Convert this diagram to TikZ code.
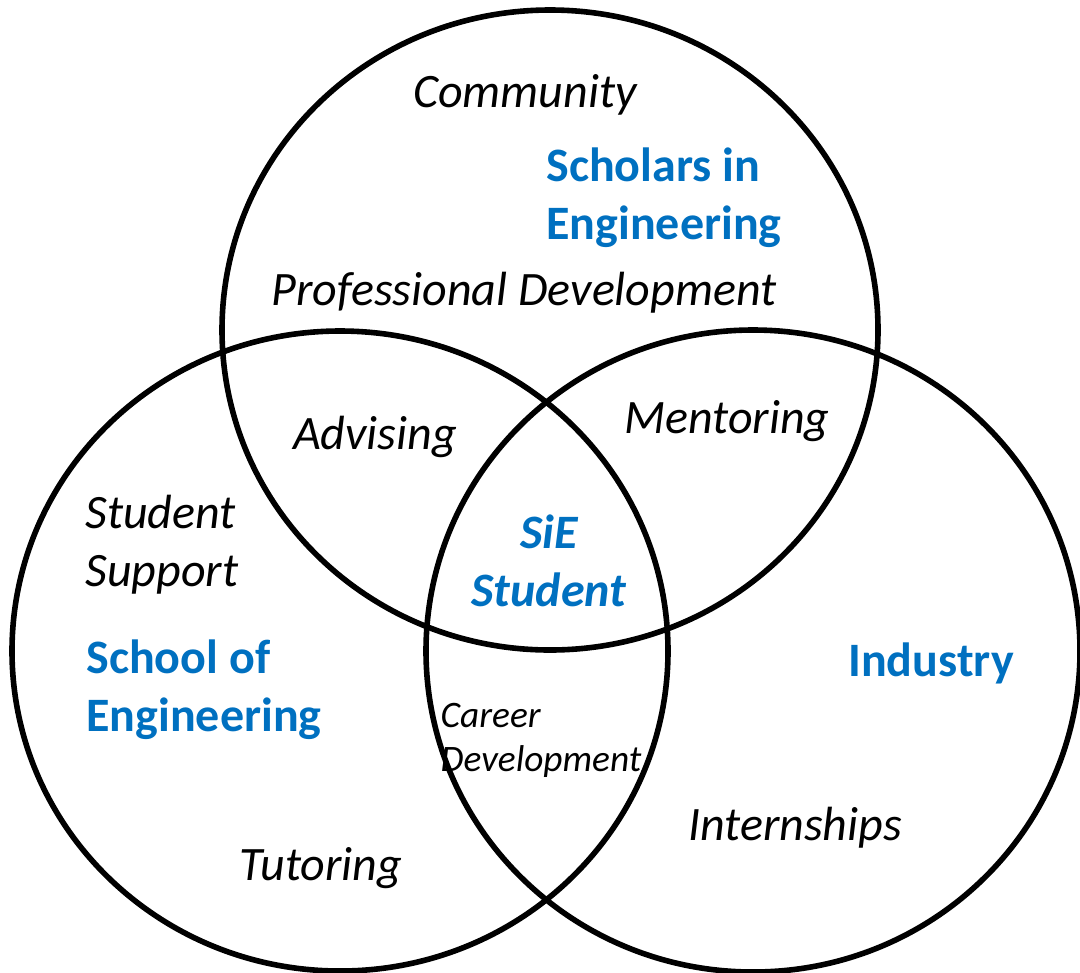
\documentclass[tikz,border=0pt]{standalone}
\usepackage{amsmath}
\usepackage{xcolor}
\usepackage{fontspec}
\setmainfont{Carlito}
\usepackage{tikz}
\definecolor{sieblue}{RGB}{0,112,192}

\begin{document}
\begin{tikzpicture}[x=0.75pt,y=0.75pt,yscale=-1,xscale=1]
\tikzset{
  ring/.style={line width=4.2pt},
  part/.style={inner sep=0.75pt,font=\fontsize{36}{43.5}\selectfont\itshape},
  small part/.style={inner sep=0.75pt,font=\fontsize{28}{33}\selectfont\itshape},
  group/.style={inner sep=0.75pt,text=sieblue,font=\fontsize{36}{43.5}\selectfont\bfseries},
}
\useasboundingbox (0,0) rectangle (1080,972);

%Shape: Circle [Scholars in Engineering]
\draw [ring] (550,330) ellipse [x radius=328, y radius=320];
%Shape: Circle [School of Engineering]
\draw [ring] (340,651) ellipse [x radius=328, y radius=320];
%Shape: Circle [Industry]
\draw [ring] (753,651) ellipse [x radius=327, y radius=321];

% Text Node
\node (community) at (525,95) [part] {Community};
% Text Node
\node (scholars) at (664,198) [group,align=left] {Scholars in\\Engineering};
% Text Node
\node (profdev) at (524,293) [part] {Professional Development};
% Text Node
\node (advising) at (375,437) [part] {Advising};
% Text Node
\node (mentoring) at (727,421) [part] {Mentoring};
% Text Node
\node (support) at (162,545) [part,align=left] {Student\\Support};
% Text Node
\node (student) at (549,561) [group,align=center,font=\fontsize{36}{43.5}\selectfont\bfseries\itshape] {SiE\\Student};
% Text Node
\node (school) at (204,690) [group,align=left] {School of\\Engineering};
% Text Node
\node (industry) at (931,663) [group] {Industry};
% Text Node
\node (career) at (541,740) [small part,align=left] {Career\\Development};
% Text Node
\node (internships) at (795,828) [part] {Internships};
% Text Node
\node (tutoring) at (321,868) [part] {Tutoring};
\end{tikzpicture}
\end{document}
